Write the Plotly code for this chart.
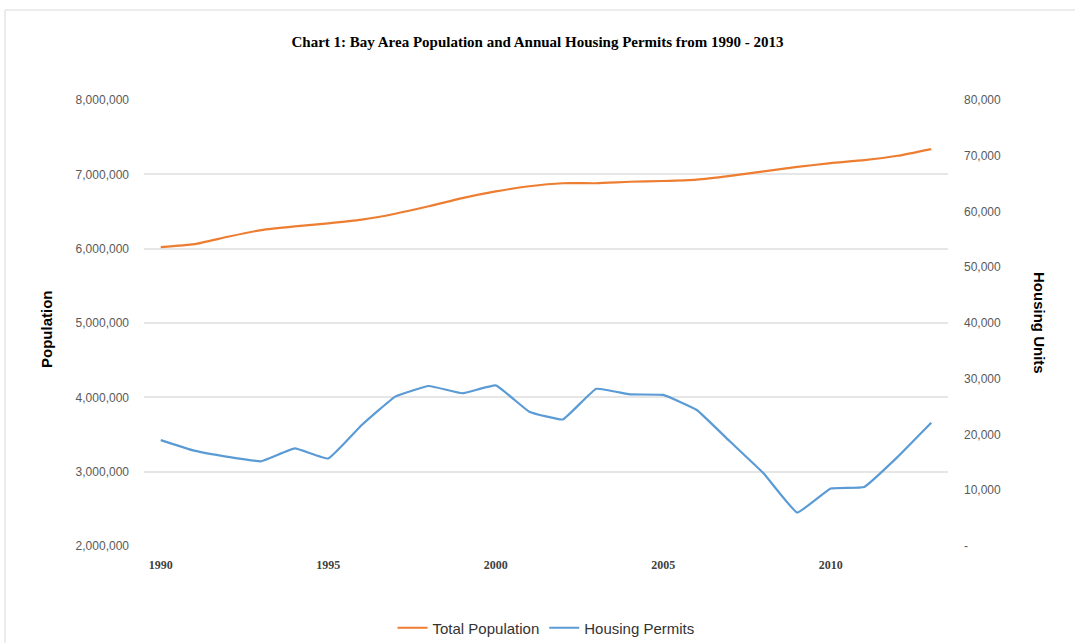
import plotly.graph_objects as go

years = list(range(1990, 2014))
population = [6020000, 6060000, 6160000, 6250000, 6300000, 6340000, 6390000, 6470000,
              6570000, 6680000, 6770000, 6840000, 6880000, 6880000, 6900000, 6910000,
              6930000, 6980000, 7040000, 7100000, 7150000, 7190000, 7250000, 7340000]
permits = [19000, 17100, 16000, 15200, 17500, 15700, 21700, 26800, 28700, 27400,
           28800, 24100, 22700, 28200, 27200, 27100, 24400, 18700, 13000, 6000,
           10300, 10600, 16000, 22100]

pop_ticks = [2000000, 3000000, 4000000, 5000000, 6000000, 7000000, 8000000]
pop_labels = ["2,000,000", "3,000,000", "4,000,000", "5,000,000", "6,000,000", "7,000,000", "8,000,000"]
unit_ticks = [0, 10000, 20000, 30000, 40000, 50000, 60000, 70000, 80000]
unit_labels = ["-", "10,000", "20,000", "30,000", "40,000", "50,000", "60,000", "70,000", "80,000"]
year_ticks = [1990, 1995, 2000, 2005, 2010]
year_labels = ["<b>1990</b>", "<b>1995</b>", "<b>2000</b>", "<b>2005</b>", "<b>2010</b>"]

fig = go.Figure()
fig.add_trace(go.Scatter(
    x=years, y=population, mode="lines", name="Total Population",
    line=dict(color="#ED7D31", width=2.2, shape="spline", smoothing=0.5),
    yaxis="y"
))
fig.add_trace(go.Scatter(
    x=years, y=permits, mode="lines", name="Housing Permits",
    line=dict(color="#5B9BD5", width=2.2, shape="spline", smoothing=0.3),
    yaxis="y2"
))

tick_font = dict(family="Liberation Sans", size=12, color="#595959")

fig.update_layout(
    width=1075, height=643,
    paper_bgcolor="white", plot_bgcolor="white",
    margin=dict(l=144, r=127, t=100, b=97),
    title=dict(
        text="<b>Chart 1: Bay Area Population and Annual Housing Permits from 1990 - 2013</b>",
        font=dict(family="Liberation Serif", size=15, color="black"),
        x=0.5, xanchor="center", y=1 - 42 / 643, yanchor="middle",
    ),
    xaxis=dict(
        range=[1989.5, 2013.5], tickvals=year_ticks, ticktext=year_labels,
        showgrid=False, zeroline=False, showline=False, ticks="", ticklabelstandoff=10,
        tickfont=dict(family="Liberation Serif", size=12, color="#404040"),
    ),
    yaxis=dict(
        range=[2000000, 8000000], tickvals=pop_ticks, ticktext=pop_labels,
        showgrid=True, gridcolor="#E6E6E6", gridwidth=1.5, zeroline=False,
        showline=False, ticks="", ticklabelstandoff=14, tickfont=tick_font,
    ),
    yaxis2=dict(
        range=[0, 80000], tickvals=unit_ticks, ticktext=unit_labels,
        overlaying="y", side="right", showgrid=False, zeroline=False,
        showline=False, ticks="", ticklabelstandoff=15, tickfont=tick_font,
    ),
    legend=dict(
        orientation="h", x=0.5, xanchor="center",
        yref="container", y=(643 - 628) / 643, yanchor="middle",
        font=dict(family="Liberation Sans", size=15, color="#333333"),
        itemwidth=30, entrywidth=0,
    ),
    annotations=[
        dict(text="<b>Population</b>", xref="paper", yref="paper",
             x=(46 - 144) / 804, y=(546 - 329) / 446, textangle=-90, showarrow=False,
             xanchor="center", yanchor="middle",
             font=dict(family="Liberation Sans", size=15, color="black")),
        dict(text="<b>Housing Units</b>", xref="paper", yref="paper",
             x=(1040 - 144) / 804, y=(546 - 323) / 446, textangle=90, showarrow=False,
             xanchor="center", yanchor="middle",
             font=dict(family="Liberation Sans", size=15, color="black")),
    ],
    shapes=[
        # thin chart-area frame: top and left edges only are in view
        dict(type="line", xref="paper", yref="paper",
             x0=(5 - 144) / 804, x1=(1200 - 144) / 804,
             y0=(546 - 10) / 446, y1=(546 - 10) / 446,
             line=dict(color="#D9D9D9", width=1), layer="below"),
        dict(type="line", xref="paper", yref="paper",
             x0=(5 - 144) / 804, x1=(5 - 144) / 804,
             y0=(546 - 10) / 446, y1=(546 - 800) / 446,
             line=dict(color="#D9D9D9", width=1), layer="below"),
    ],
)

# drop the page's default body margin so the 1075x643 figure fills the window
fig.write_html("out.html", config={"displayModeBar": False},
               post_script="document.body.style.margin='0';")
